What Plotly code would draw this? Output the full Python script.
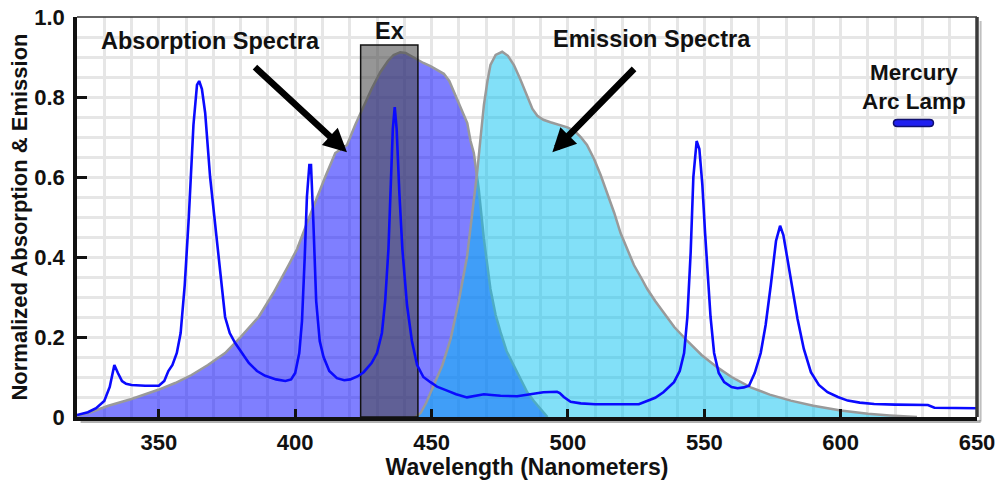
import plotly.graph_objects as go

# Mercury arc lamp emission lines (wavelength nm, normalized intensity)
mercury_nm = [320, 324, 327, 330, 332, 333.7, 335, 336.5, 338, 340, 345, 350, 352, 353.5, 355,
              356.6, 358, 359.5, 361, 362.7, 364, 364.8, 365.8, 367, 368.8, 370, 371.9, 373, 374.3,
              376, 378, 380.5, 383, 386, 389, 393, 396.4, 398.5, 400, 401.5, 402.5, 403.5, 404.3,
              405.2, 405.8, 406.6, 407.7, 409, 410.4, 412.5, 415.3, 418, 420.2, 423, 425.1, 428,
              430, 431.8, 433, 434.2, 435, 435.8, 436.5, 437.2, 438.2, 439.3, 441, 442.8, 444.7,
              447, 449.6, 452, 455.7, 459, 463, 466, 469.2, 472, 475.3, 481.4, 485, 487.5, 491,
              496, 497, 498.5, 501, 504.7, 510, 520, 526, 529, 532, 535, 537, 538.9, 541, 542.6,
              543.8, 545, 546, 547.2, 548.2, 549.3, 550.3, 551.2, 552.3, 553.6, 555.3, 557.3, 560,
              562.2, 564.5, 566.4, 568.5, 570.7, 572.5, 574.4, 576.3, 577.8, 579, 580.5, 582.3,
              584.2, 586.5, 589.1, 592, 595.2, 599, 602.6, 607, 612.3, 620, 632, 634.4, 640, 650]
mercury_val = [0.005, 0.012, 0.022, 0.04, 0.075, 0.13, 0.11, 0.09, 0.083, 0.08, 0.078, 0.078, 0.09,
               0.115, 0.13, 0.16, 0.21, 0.33, 0.5, 0.73, 0.83, 0.84, 0.82, 0.76, 0.60, 0.52, 0.40,
               0.32, 0.25, 0.21, 0.185, 0.16, 0.135, 0.115, 0.103, 0.094, 0.09, 0.094, 0.11, 0.16,
               0.24, 0.40, 0.55, 0.63, 0.63, 0.50, 0.29, 0.19, 0.15, 0.115, 0.097, 0.092, 0.094,
               0.102, 0.112, 0.135, 0.16, 0.21, 0.29, 0.42, 0.55, 0.72, 0.775, 0.72, 0.56, 0.42,
               0.28, 0.19, 0.13, 0.10, 0.087, 0.076, 0.066, 0.057, 0.049, 0.053, 0.057, 0.055,
               0.053, 0.052, 0.056, 0.06, 0.062, 0.063, 0.06, 0.05, 0.038, 0.034, 0.032, 0.032,
               0.032, 0.04, 0.048, 0.062, 0.075, 0.087, 0.115, 0.16, 0.25, 0.41, 0.6, 0.69, 0.67,
               0.58, 0.46, 0.37, 0.25, 0.16, 0.11, 0.087, 0.075, 0.072, 0.074, 0.078, 0.11, 0.16,
               0.23, 0.33, 0.44, 0.478, 0.455, 0.395, 0.32, 0.245, 0.17, 0.112, 0.08, 0.062, 0.05,
               0.041, 0.036, 0.0325, 0.031, 0.03, 0.023, 0.022, 0.022]

# Fluorophore absorption spectrum
absorption_nm = [320, 325, 331.5, 340, 349.8, 356, 362, 368, 374.3, 380, 386.6, 392, 397.6, 400.7,
                 404.9, 408, 411, 414.7, 419, 422, 425.1, 428, 431.2, 434, 436.1, 438.5, 440.5,
                 442.5, 444.7, 447, 449.6, 452, 454.5, 456.5, 458.1, 459.4, 461.8, 463.1, 464.3,
                 465.5, 467.3, 469.2, 471.6, 473.5, 475.3, 477.5, 480.2, 482.5, 485.1, 487.5, 490,
                 492.5]
absorption_val = [0.003, 0.012, 0.028, 0.045, 0.068, 0.085, 0.105, 0.13, 0.16, 0.2, 0.25, 0.31,
                  0.38, 0.42, 0.495, 0.55, 0.60, 0.66, 0.68, 0.73, 0.778, 0.82, 0.862, 0.89,
                  0.905, 0.912, 0.91, 0.902, 0.893, 0.885, 0.877, 0.868, 0.858, 0.84, 0.815,
                  0.795, 0.753, 0.735, 0.69, 0.66, 0.57, 0.445, 0.32, 0.255, 0.212, 0.165, 0.128,
                  0.095, 0.062, 0.04, 0.02, 0.0]

# Fluorophore emission spectrum
emission_nm = [444, 446, 448, 450.8, 454, 457, 460, 463, 465, 466.7, 468, 469.2, 470.5, 471.6,
               473.5, 475.9, 478, 480.2, 482.5, 485.1, 487, 488.8, 491, 493.6, 496.5, 499.8,
               502.5, 504.7, 507, 509.6, 512, 514.5, 517, 519.3, 522, 524.2, 526.7, 529.1, 532,
               535.2, 539, 543.8, 549, 554.8, 560, 567, 574, 581.7, 590, 600, 610, 618, 625, 628]
emission_val = [0.0, 0.01, 0.035, 0.08, 0.13, 0.195, 0.29, 0.40, 0.51, 0.61, 0.70, 0.78, 0.84,
                0.88, 0.905, 0.913, 0.903, 0.88, 0.845, 0.80, 0.77, 0.753, 0.743, 0.737, 0.73,
                0.724, 0.715, 0.70, 0.68, 0.645, 0.605, 0.56, 0.51, 0.46, 0.415, 0.38, 0.35,
                0.32, 0.29, 0.26, 0.225, 0.19, 0.155, 0.124, 0.1, 0.074, 0.056, 0.041, 0.028,
                0.016, 0.008, 0.004, 0.001, 0.0]

# Excitation filter band
ex_band = [424, 445]
ex_level = 0.93

x_ticks = [350, 400, 450, 500, 550, 600, 650]
y_ticks = [0, 0.2, 0.4, 0.6, 0.8, 1.0]
y_tick_text = ["0", "0.2", "0.4", "0.6", "0.8", "1.0"]

FONT = "Liberation Sans, Arial, sans-serif"
GRID = "#e6e6e6"

fig = go.Figure()

fig.add_trace(go.Scatter(
    x=absorption_nm, y=absorption_val, mode="lines", fill="tozeroy",
    fillcolor="rgba(0,0,255,0.5)", line=dict(color="#9a9a9a", width=2.5),
    hoverinfo="skip", showlegend=False))

fig.add_trace(go.Scatter(
    x=emission_nm, y=emission_val, mode="lines", fill="tozeroy",
    fillcolor="rgba(0,191,240,0.49)", line=dict(color="#9a9a9a", width=2.5),
    hoverinfo="skip", showlegend=False))

fig.add_trace(go.Scatter(
    x=[ex_band[0], ex_band[0], ex_band[1], ex_band[1], ex_band[0]],
    y=[0, ex_level, ex_level, 0, 0], mode="lines", fill="toself",
    fillcolor="rgba(72,72,72,0.575)", line=dict(color="#111111", width=1.5),
    hoverinfo="skip", showlegend=False))

fig.add_trace(go.Scatter(
    x=mercury_nm, y=mercury_val, mode="lines",
    line=dict(color="#0a0aff", width=2.6),
    name="Mercury Arc Lamp", showlegend=False))

bold = dict(family=FONT, color="#111111", weight="bold")

fig.update_xaxes(
    range=[320, 650], tickvals=x_ticks, ticks="inside", ticklen=8, tickwidth=3,
    tickcolor="#111111", showline=True, linecolor="#111111", linewidth=4,
    showgrid=True, gridcolor=GRID, gridwidth=3, zeroline=False,
    minor=dict(dtick=10, tick0=320, showgrid=True, gridcolor=GRID, gridwidth=3),
    tickfont=dict(size=22, **bold), ticklabelstandoff=3,
    title=dict(text="Wavelength (Nanometers)", font=dict(size=23, **bold), standoff=0),
)
fig.update_yaxes(
    range=[0, 1.0], tickvals=y_ticks, ticktext=y_tick_text, ticks="inside", ticklen=10,
    tickwidth=3, tickcolor="#111111", showline=True, linecolor="#111111", linewidth=3.5,
    showgrid=True, gridcolor=GRID, gridwidth=3, zeroline=False,
    minor=dict(dtick=0.05, tick0=0, showgrid=True, gridcolor=GRID, gridwidth=3),
    tickfont=dict(size=22, **bold), ticklabelstandoff=4,
    title=dict(text="Normalized Absorption & Emission", font=dict(size=22, **bold), standoff=2),
)

annotations = [
    dict(x=369, y=0.94, text="Absorption Spectra", showarrow=False, font=dict(size=23.5, **bold)),
    dict(x=434.5, y=0.965, text="Ex", showarrow=False, font=dict(size=23.5, **bold)),
    dict(x=531, y=0.945, text="Emission Spectra", showarrow=False, font=dict(size=23.5, **bold)),
    dict(x=626.9, y=0.825, text="Mercury<br>Arc Lamp", showarrow=False,
         font=dict(size=22.5, **bold), align="center"),
    # pointer arrows
    dict(x=419, y=0.662, ax=384.7, ay=0.878, axref="x", ayref="y", text="", showarrow=True,
         arrowhead=2, arrowwidth=6.5, arrowsize=0.72, arrowcolor="#000000"),
    dict(x=494.3, y=0.662, ax=524.8, ay=0.874, axref="x", ayref="y", text="", showarrow=True,
         arrowhead=2, arrowwidth=6.5, arrowsize=0.72, arrowcolor="#000000"),
]

shapes = [
    # frame: top and right edges, axis shadows
    dict(type="line", xref="x domain", yref="y domain", x0=0, x1=1, y0=1, y1=1,
         line=dict(color="#333333", width=1.5)),
    dict(type="line", xref="x domain", yref="y domain", x0=1, x1=1, y0=0, y1=1,
         line=dict(color="#3a3a3a", width=3.5)),
    dict(type="line", xref="x domain", yref="y domain", x0=0.004, x1=1.004, y0=-0.011, y1=-0.011,
         line=dict(color="rgba(0,0,0,0.3)", width=3), layer="below"),
    dict(type="line", xref="x domain", yref="y domain", x0=1.004, x1=1.004, y0=-0.011, y1=0.99,
         line=dict(color="rgba(0,0,0,0.25)", width=2)),
    # lamp legend swatch
    dict(type="path", xref="x", yref="y", xsizemode="pixel", ysizemode="pixel",
         xanchor=626.7, yanchor=0.735,
         path="M -16,-3.5 L 16,-3.5 Q 20,-3.5 20,0 Q 20,3.5 16,3.5 L -16,3.5 "
              "Q -20,3.5 -20,0 Q -20,-3.5 -16,-3.5 Z",
         fillcolor="#2020f0", line=dict(color="#101070", width=1.5)),
]

fig.update_layout(
    width=1000, height=480,
    margin=dict(l=77, r=23, t=17, b=63, autoexpand=False),
    paper_bgcolor="white", plot_bgcolor="white",
    font=dict(family=FONT, color="#111111"),
    annotations=annotations, shapes=shapes, showlegend=False,
)

fig.write_html("out.html")
